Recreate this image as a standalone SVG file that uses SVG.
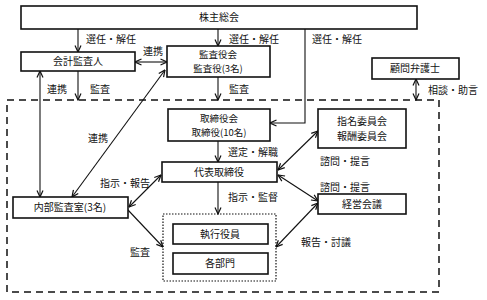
<svg xmlns="http://www.w3.org/2000/svg" width="487" height="300" viewBox="0 0 487 300">
<style>
text{font-family:"Noto Sans CJK JP","Noto Sans CJK SC",sans-serif;font-size:10px;fill:#111}
.c{text-anchor:middle}
.s{font-size:9.5px}
.box{fill:#fff;stroke:#111;stroke-width:1.6}
.ln{fill:none;stroke:#111;stroke-width:1.1}
</style>
<defs>
<marker id="a" viewBox="0 0 8 8" refX="7.5" refY="4" markerWidth="8" markerHeight="8" markerUnits="userSpaceOnUse" orient="auto-start-reverse">
<path d="M1,1 L7.5,4 L1,7" fill="none" stroke="#111" stroke-width="1.2"/>
</marker>
</defs>
<rect x="0" y="0" width="487" height="300" fill="#fff"/>
<rect id="frame" x="7" y="100" width="432" height="192" fill="none" stroke="#111" stroke-width="1.5" stroke-dasharray="7,5"/>
<g id="connectors">
<line class="ln" x1="78" y1="29" x2="78" y2="52" marker-end="url(#a)"/>
<line class="ln" x1="218" y1="29" x2="218" y2="46" marker-end="url(#a)"/>
<polyline class="ln" points="305,29 305,123 270,123" marker-end="url(#a)"/>
<line class="ln" x1="135" y1="62" x2="167" y2="62" marker-start="url(#a)" marker-end="url(#a)"/>
<line class="ln" x1="78" y1="71" x2="78" y2="100" marker-end="url(#a)"/>
<line class="ln" x1="40" y1="71" x2="40" y2="197" marker-start="url(#a)" marker-end="url(#a)"/>
<line class="ln" x1="72" y1="197" x2="165" y2="70" marker-start="url(#a)" marker-end="url(#a)"/>
<line class="ln" x1="218" y1="77" x2="218" y2="100" marker-end="url(#a)"/>
<line class="ln" x1="416" y1="79" x2="416" y2="100" marker-start="url(#a)" marker-end="url(#a)"/>
<line class="ln" x1="218" y1="141" x2="218" y2="162" marker-end="url(#a)"/>
<line class="ln" x1="218" y1="182" x2="218" y2="214" marker-end="url(#a)"/>
<line class="ln" x1="161" y1="175" x2="129" y2="207" marker-start="url(#a)" marker-end="url(#a)"/>
<line class="ln" x1="278" y1="170" x2="318" y2="131" marker-start="url(#a)" marker-end="url(#a)"/>
<line class="ln" x1="278" y1="175" x2="318" y2="201" marker-start="url(#a)" marker-end="url(#a)"/>
<line class="ln" x1="318" y1="203" x2="276" y2="247" marker-start="url(#a)" marker-end="url(#a)"/>
<line class="ln" x1="128" y1="210" x2="163" y2="247" marker-end="url(#a)"/>
<text x="86" y="43">選任・解任</text>
<text x="229" y="43">選任・解任</text>
<text x="312" y="43">選任・解任</text>
<text x="143" y="55">連携</text>
<text x="47" y="93">連携</text>
<text x="90" y="93">監査</text>
<text x="229" y="93">監査</text>
<text x="428" y="94">相談・助言</text>
<text x="88" y="142">連携</text>
<text x="228" y="156">選定・解職</text>
<text x="100" y="187">指示・報告</text>
<text x="228" y="201">指示・監督</text>
<text x="320" y="165">諮問・提言</text>
<text x="320" y="191">諮問・提言</text>
<text x="301" y="246">報告・討議</text>
<text x="130" y="256">監査</text>
</g>
<g id="shareholders"><rect class="box" x="21" y="6" width="396" height="23"/><text class="c" x="219" y="21">株主総会</text></g>
<g id="accounting-auditor"><rect class="box" x="21" y="52" width="114" height="19"/><text class="c" x="78" y="65">会計監査人</text></g>
<g id="audit-board"><rect class="box" x="167" y="46" width="103" height="31"/><text class="c s" x="218" y="58">監査役会</text><text class="c s" x="218" y="72">監査役(3名)</text></g>
<g id="legal-advisor"><rect class="box" x="372" y="58" width="87" height="21"/><text class="c" x="415" y="72">顧問弁護士</text></g>
<g id="board"><rect class="box" x="168" y="109" width="102" height="32"/><text class="c s" x="219" y="121.5">取締役会</text><text class="c s" x="219" y="135.5">取締役(10名)</text></g>
<g id="representative"><rect class="box" x="162" y="162" width="115" height="20"/><text class="c" x="219" y="176">代表取締役</text></g>
<g id="internal-audit"><rect class="box" x="13" y="197" width="115" height="21"/><text class="c" x="70" y="211">内部監査室(3名)</text></g>
<g id="committees"><rect class="box" x="318" y="109" width="88" height="39"/><text class="c" x="362" y="125">指名委員会</text><text class="c" x="362" y="140">報酬委員会</text></g>
<g id="management-meeting"><rect class="box" x="318" y="194" width="88" height="20"/><text class="c" x="362" y="208">経営会議</text></g>
<g id="execution">
<rect x="163" y="214" width="113" height="67" fill="none" stroke="#111" stroke-width="1.2" stroke-dasharray="1.5,1.5"/>
<g id="officers"><rect class="box" x="173" y="224" width="95" height="20"/><text class="c" x="220" y="238">執行役員</text></g>
<g id="departments"><rect class="box" x="173" y="253" width="95" height="21"/><text class="c" x="220" y="267">各部門</text></g>
</g>
</svg>
